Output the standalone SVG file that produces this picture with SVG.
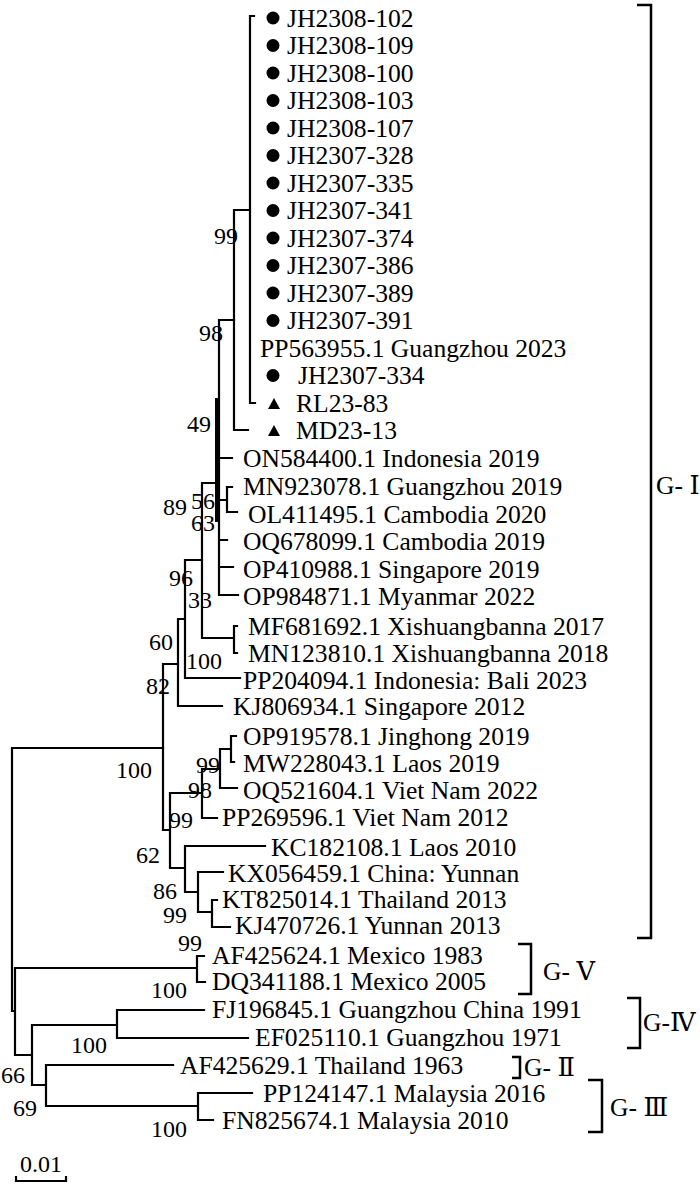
<svg xmlns="http://www.w3.org/2000/svg" width="700" height="1192" viewBox="0 0 700 1192">
<style>
.br{fill:none;stroke:#000;stroke-width:2.2;stroke-linecap:square}
.lb{font-family:"Liberation Serif","Times New Roman",serif;font-size:25.6px;fill:#000}
.bs{font-family:"Liberation Serif","Times New Roman",serif;font-size:24px;fill:#000}
.gl{font-family:"Liberation Serif","DejaVu Serif","Noto Sans CJK SC",serif;font-size:25.6px;fill:#000}
.bk{fill:none;stroke:#000;stroke-width:2.5}
</style>
<rect width="700" height="1192" fill="#fff"/>
<g id="connectors" class="br">
<path d="M12,748V1011M12,748H163M12,1011H15M15,968V1055M15,968H197M197,956V982M197,956H204M197,982H205M15,1055H32M32,1025V1085M32,1025H117M117,1010V1038M117,1010H204M117,1038H248M32,1085H46M46,1065V1106M46,1065H173M46,1106H198M198,1093V1120M198,1093H252M198,1120H213"/>
<path d="M163,664V830M163,664H178M178,619V706M178,706H222M178,619H185M185,560V678M185,678H240M185,560H202M202,483V638M202,638H234M234,626V653M234,626H237M234,653H237M202,483H217"/>
<path d="M219,320V595M219,320H234M219,458H232M219,500H227M227,487V512M227,487H232M227,512H237M219,540H227M219,567H233M219,595H238"/>
<path d="M217,400V520" stroke-width="4"/>
<path d="M234,210V430M234,430H248M234,210H250M250,16V403M250,16H254M250,403H255"/>
<path d="M163,830H170M170,793V868M170,793H202M202,769V818M202,818H217M202,769H220M220,749V788M220,788H237M220,749H231M231,736V762M231,736H236M231,762H234M170,868H185M185,846V892M185,846H265M185,892H198M198,872V912M198,872H223M198,912H212M212,900V927M212,900H217M212,927H230"/>
</g>
<g id="tips-ji">
<circle cx="273" cy="18" r="6.5"/><text class="lb" x="287" y="26.5">JH2308-102</text>
<circle cx="273" cy="45.5" r="6.5"/><text class="lb" x="287" y="54">JH2308-109</text>
<circle cx="273" cy="73" r="6.5"/><text class="lb" x="287" y="81.5">JH2308-100</text>
<circle cx="273" cy="100.5" r="6.5"/><text class="lb" x="287" y="109">JH2308-103</text>
<circle cx="273" cy="128" r="6.5"/><text class="lb" x="287" y="136.5">JH2308-107</text>
<circle cx="273" cy="155.5" r="6.5"/><text class="lb" x="287" y="164">JH2307-328</text>
<circle cx="273" cy="183" r="6.5"/><text class="lb" x="287" y="191.5">JH2307-335</text>
<circle cx="273" cy="210.5" r="6.5"/><text class="lb" x="287" y="219">JH2307-341</text>
<circle cx="273" cy="238" r="6.5"/><text class="lb" x="287" y="246.5">JH2307-374</text>
<circle cx="273" cy="265.5" r="6.5"/><text class="lb" x="287" y="274">JH2307-386</text>
<circle cx="273" cy="293" r="6.5"/><text class="lb" x="287" y="301.5">JH2307-389</text>
<circle cx="273" cy="320.5" r="6.5"/><text class="lb" x="287" y="329">JH2307-391</text>
<text class="lb" x="260" y="356.5">PP563955.1 Guangzhou 2023</text>
<circle cx="273" cy="375.5" r="6.5"/><text class="lb" x="298" y="384">JH2307-334</text>
<path d="M268,409L274,398L280,409Z"/><text class="lb" x="296" y="411.5">RL23-83</text>
<path d="M268,436L274,425L280,436Z"/><text class="lb" x="296" y="438.5">MD23-13</text>
</g>
<g id="tips-gi">
<text class="lb" x="243" y="467">ON584400.1 Indonesia 2019</text>
<text class="lb" x="243" y="495">MN923078.1 Guangzhou 2019</text>
<text class="lb" x="248" y="523">OL411495.1 Cambodia 2020</text>
<text class="lb" x="243" y="550">OQ678099.1 Cambodia 2019</text>
<text class="lb" x="243" y="578">OP410988.1 Singapore 2019</text>
<text class="lb" x="243" y="605">OP984871.1 Myanmar 2022</text>
<text class="lb" x="248" y="635">MF681692.1 Xishuangbanna 2017</text>
<text class="lb" x="248" y="662">MN123810.1 Xishuangbanna 2018</text>
<text class="lb" x="243" y="689">PP204094.1 Indonesia: Bali 2023</text>
<text class="lb" x="233" y="715">KJ806934.1 Singapore 2012</text>
<text class="lb" x="243" y="745">OP919578.1 Jinghong 2019</text>
<text class="lb" x="243" y="772">MW228043.1 Laos 2019</text>
<text class="lb" x="243" y="799">OQ521604.1 Viet Nam 2022</text>
<text class="lb" x="222" y="826">PP269596.1 Viet Nam 2012</text>
<text class="lb" x="271" y="856">KC182108.1 Laos 2010</text>
<text class="lb" x="228" y="882">KX056459.1 China: Yunnan</text>
<text class="lb" x="222" y="908">KT825014.1 Thailand 2013</text>
<text class="lb" x="235" y="934">KJ470726.1 Yunnan 2013</text>
</g>
<g id="tips-other">
<text class="lb" x="212" y="964">AF425624.1 Mexico 1983</text>
<text class="lb" x="212" y="990">DQ341188.1 Mexico 2005</text>
<text class="lb" x="212" y="1018">FJ196845.1 Guangzhou China 1991</text>
<text class="lb" x="255" y="1046">EF025110.1 Guangzhou 1971</text>
<text class="lb" x="180" y="1074">AF425629.1 Thailand 1963</text>
<text class="lb" x="263" y="1102">PP124147.1 Malaysia 2016</text>
<text class="lb" x="222" y="1129">FN825674.1 Malaysia 2010</text>
</g>
<g id="bootstrap" class="bs" text-anchor="end">
<text x="238" y="244">99</text>
<text x="223" y="341">98</text>
<text x="211" y="432">49</text>
<text x="215" y="509">56</text>
<text x="187" y="515">89</text>
<text x="215" y="531">63</text>
<text x="193" y="586">96</text>
<text x="212" y="608">33</text>
<text x="173" y="650">60</text>
<text x="222" y="669">100</text>
<text x="170" y="694">82</text>
<text x="152" y="778">100</text>
<text x="220" y="773">99</text>
<text x="212" y="798">98</text>
<text x="193" y="828">99</text>
<text x="160" y="863">62</text>
<text x="177" y="899">86</text>
<text x="187" y="923">99</text>
<text x="202" y="951">99</text>
<text x="187" y="998">100</text>
<text x="107" y="1053">100</text>
<text x="25" y="1083">66</text>
<text x="37" y="1116">69</text>
<text x="187" y="1137">100</text>
</g>
<g id="group-I"><path class="bk" d="M637,5H651V938H637"/><text class="gl" x="656" y="494">G- Ⅰ</text></g>
<g id="group-V"><path class="bk" d="M518,944H531V994H518"/><text class="gl" x="543" y="980">G- Ⅴ</text></g>
<g id="group-IV"><path class="bk" d="M627,998H640V1048H627"/><text class="gl" x="643" y="1031">G-Ⅳ</text></g>
<g id="group-II"><path class="bk" d="M512,1057H520V1078H512"/><text class="gl" x="524" y="1076">G- Ⅱ</text></g>
<g id="group-III"><path class="bk" d="M588,1080H602V1132H588"/><text class="gl" x="610" y="1116">G- Ⅲ</text></g>
<g id="scale"><path class="br" d="M16,1177V1181H66V1177"/><text class="bs" x="41" y="1172" text-anchor="middle">0.01</text></g>
</svg>
